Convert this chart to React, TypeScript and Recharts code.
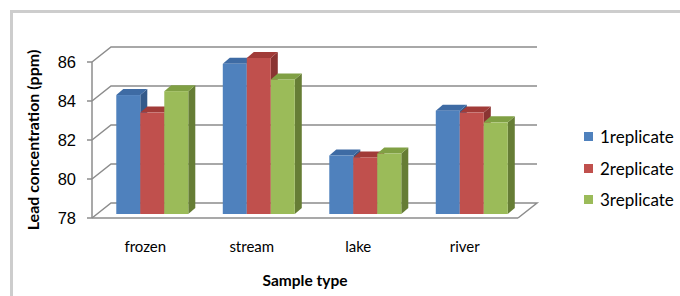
import React from 'react';
import { BarChart, Bar, XAxis, YAxis, CartesianGrid, Legend } from 'recharts';

// Sample data
const categories = ['frozen', 'stream', 'lake', 'river'];
const replicate1 = [84.1, 85.7, 81.0, 83.3];
const replicate2 = [83.2, 86.0, 80.9, 83.2];
const replicate3 = [84.3, 84.9, 81.1, 82.7];
const yTicks = [78, 80, 82, 84, 86];
const seriesNames = ['1replicate', '2replicate', '3replicate'];

const data = categories.map((name, i) => ({
  name,
  r1: replicate1[i],
  r2: replicate2[i],
  r3: replicate3[i],
}));

// front / top / side colours of each 3D bar
const FACES = [
  { front: '#4F81BD', top: '#3E6BA4', side: '#345A8A' },
  { front: '#C0504D', top: '#A13B38', side: '#8A3432' },
  { front: '#9BBB59', top: '#80A044', side: '#667D35' },
];

// perspective offsets
const WALL_DX = 19;
const WALL_DY = -15;
const BAR_SX = 6.5;
const BAR_SY = -4;
const BAR_DX = 7;
const BAR_DY = -6;

const GRID = '#8c8c8c';

function Bar3D(props: any) {
  const { x, y, width, height, faces } = props;
  if (width == null || height == null) return null;
  const fx = x + BAR_SX;
  const fy = y + BAR_SY;
  const top = `M${fx},${fy} L${fx + width},${fy} L${fx + width + BAR_DX},${fy + BAR_DY} L${fx + BAR_DX},${fy + BAR_DY} Z`;
  const side = `M${fx + width},${fy} L${fx + width + BAR_DX},${fy + BAR_DY} L${fx + width + BAR_DX},${fy + height + BAR_DY} L${fx + width},${fy + height} Z`;
  return (
    <g>
      <path d={side} fill={faces.side} />
      <path d={top} fill={faces.top} />
      <rect x={fx} y={fy} width={width} height={height} fill={faces.front} />
    </g>
  );
}

function WallLine(props: any) {
  const { x1, y1, x2, index, key } = props;
  const bx = x1 + WALL_DX;
  const by = y1 + WALL_DY;
  let d = `M${x1},${y1} L${bx},${by} L${x2 + WALL_DX},${by}`;
  if (index === 0) {
    // floor: right edge back to the front
    d += ` L${x2},${y1}`;
  }
  return <path key={key} d={d} stroke={GRID} strokeWidth={1.5} fill="none" />;
}

function LegendBox() {
  return (
    <div style={{ fontFamily: 'Lato', fontSize: 17, color: '#000' }}>
      {seriesNames.map((n, i) => (
        <div key={n} style={{ display: 'flex', alignItems: 'center', height: 31.5 }}>
          <span style={{ width: 9, height: 9, background: FACES[i].front, marginRight: 7, display: 'inline-block' }} />
          <span>{n}</span>
        </div>
      ))}
    </div>
  );
}

export default function App() {
  return (
    <div style={{ position: 'absolute', left: 0, top: 0, width: 680, height: 296, overflow: 'hidden', background: '#fff' }}>
      <div
        style={{
          position: 'absolute',
          left: 10,
          top: 10,
          width: 700,
          height: 320,
          border: '3px solid #cdcdcd',
          boxSizing: 'border-box',
        }}
      />
      <BarChart
        width={680}
        height={296}
        data={data}
        margin={{ top: 62, right: 66, left: 0, bottom: 0 }}
        barCategoryGap="16.7%"
        barGap={0}
      >
        <CartesianGrid vertical={false} horizontal={(p: any) => <WallLine {...p} />} />
        <XAxis
          dataKey="name"
          height={78}
          axisLine={{ stroke: GRID, strokeWidth: 1.5 }}
          tickLine={false}
          tickMargin={17}
          tick={{ fontFamily: 'Lato', fontSize: 15, fill: '#000' }}
          label={{
            value: 'Sample type',
            position: 'insideBottom',
            offset: 10,
            style: { fontFamily: 'Lato', fontSize: 15.5, fontWeight: 700, fill: '#000' },
          }}
        />
        <YAxis
          width={92}
          domain={[78, 86]}
          ticks={yTicks}
          axisLine={{ stroke: GRID, strokeWidth: 1.5 }}
          tickLine={{ stroke: GRID, strokeWidth: 1.5 }}
          tickSize={5}
          tickMargin={11}
          tick={{ fontFamily: 'Liberation Sans', fontSize: 16.5, fill: '#000' }}
          label={{
            value: 'Lead concentration  (ppm)',
            angle: -90,
            position: 'insideLeft',
            offset: 33,
            style: { textAnchor: 'middle', fontFamily: 'Lato', fontSize: 16, fontWeight: 700, fill: '#000' },
          }}
        />
        <Legend
          layout="vertical"
          align="right"
          verticalAlign="middle"
          content={() => <LegendBox />}
          wrapperStyle={{ left: 584, top: 121, width: 96 }}
        />
        {['r1', 'r2', 'r3'].map((k, i) => (
          <Bar
            key={k}
            dataKey={k}
            name={seriesNames[i]}
            fill={FACES[i].front}
            isAnimationActive={false}
            shape={(p: any) => <Bar3D {...p} faces={FACES[i]} />}
          />
        ))}
      </BarChart>
    </div>
  );
}
